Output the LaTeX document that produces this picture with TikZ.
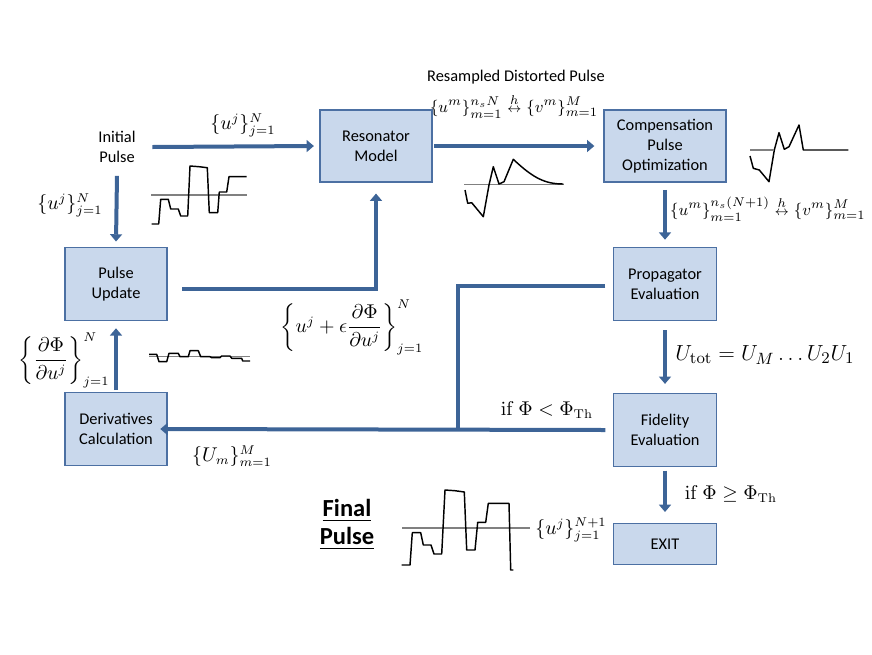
\documentclass[tikz,border=0pt]{standalone}
\usepackage{amsmath}
\usepackage[no-math]{fontspec}
\setmainfont{Carlito}
\usepackage{xcolor}
\usetikzlibrary{arrows.meta, positioning, calc}

\definecolor{boxfill}{HTML}{C9D8EC}
\definecolor{boxline}{HTML}{4C70A3}
\definecolor{flowblue}{HTML}{3D6497}

\newcommand{\hmap}{\;\overset{h}{\scriptstyle\leftrightarrow}\;}

\begin{document}
\begin{tikzpicture}[
    x=0.55pt, y=-0.55pt,
    every node/.style={font=\fontsize{9}{11}\selectfont, inner sep=1pt},
    block/.style={draw=boxline, fill=boxfill, line width=0.7pt, align=center},
    flow/.style={draw=flowblue, line width=2.2pt, -{Triangle[length=4pt, width=6.5pt]}},
    flowline/.style={draw=flowblue, line width=2.2pt},
    mlabel/.style={font=\fontsize{10.5}{13}\selectfont},
    wave/.style={line width=0.8pt, line join=round},
    axisline/.style={gray, line width=0.6pt}
  ]
  \useasboundingbox (0,0) rectangle (872,654);

  % blocks
  \node[block, minimum width=61.6pt, minimum height=39.6pt] (res) at (376,146) {Resonator\\Model};
  \node[block, minimum width=67pt, minimum height=39.6pt] (comp) at (665,146) {Compensation\\Pulse\\Optimization};
  \node[block, minimum width=56pt, minimum height=40pt] (upd) at (116,284) {Pulse\\Update};
  \node[block, minimum width=56pt, minimum height=40pt] (deriv) at (116,429) {Derivatives\\Calculation};
  \node[block, minimum width=57pt, minimum height=40pt] (prop) at (665,284) {Propagator\\Evaluation};
  \node[block, minimum width=57pt, minimum height=40pt] (fid) at (665,430) {Fidelity\\Evaluation};
  \node[block, minimum width=56.5pt, minimum height=22.5pt] (exit) at (665,544) {EXIT};
  \node[align=center] (init) at (117,147) {Initial\\Pulse};

  % connectors
  \draw[flow] ([xshift=8pt]init.east) -- ([xshift=-3pt]res.west);
  \draw[flow] ([yshift=-6pt]init.south) -- ([yshift=3pt]upd.north);
  \draw[flow] ([xshift=8pt,yshift=-3pt]upd.east) -| ([yshift=-6pt]res.south);
  \draw[flow] ([xshift=1pt]res.east) -- ([xshift=-5pt]comp.west);
  \draw[flow] ([yshift=-4pt]comp.south) -- ([yshift=4pt]prop.north);
  \coordinate (join) at (458,430);
  \draw[flowline] ([xshift=-4pt,yshift=-1pt]prop.west) -| (join);
  \draw[flow] ([xshift=-4pt]fid.west) -- ([xshift=-4pt]deriv.east);
  \draw[flow] ([yshift=-5pt]prop.south) -- ([yshift=5pt]fid.north);
  \draw[flow] ([yshift=-2pt]fid.south) -- ([yshift=6pt]exit.north);
  \draw[flow] ([yshift=1pt]deriv.north) -- ([yshift=-4pt]upd.south);

  % labels
  \node[mlabel] (uinit) at (243,125) {$\{u^j\}_{j=1}^N$};
  \node[mlabel] (uleft) at (70,205) {$\{u^j\}_{j=1}^N$};
  \node (resamp) at (516,77) {Resampled Distorted Pulse};
  \node[font=\fontsize{9.5}{12}\selectfont] (umres) at (514,106) {$\{u^m\}_{m=1}^{n_sN}\hmap\{v^m\}_{m=1}^M$};
  \node[font=\fontsize{9.5}{12}\selectfont, anchor=west] (umcomp) at (668,209) {$\{u^m\}_{m=1}^{n_s(N+1)}\hmap\{v^m\}_{m=1}^M$};
  \node[font=\fontsize{12.5}{14}\selectfont] (utot) at (765,355) {$U_{\mathrm{tot}} = U_M \dots U_2U_1$};
  \node[mlabel] (dphi) at (64,360) {$\left\{\dfrac{\partial\Phi}{\partial u^j}\right\}_{j=1}^N$};
  \node[mlabel] (upd-lbl) at (352,327) {$\left\{u^j+\epsilon\dfrac{\partial\Phi}{\partial u^j}\right\}_{j=1}^N$};
  \node[mlabel] (um) at (232,456) {$\{U_m\}_{m=1}^M$};
  \node[mlabel] (iflt) at (547,410) {$\mathrm{if}\ \Phi < \Phi_{\mathrm{Th}}$};
  \node[mlabel] (ifge) at (731,494) {$\mathrm{if}\ \Phi \geq \Phi_{\mathrm{Th}}$};
  \node[mlabel] (ufinal) at (571,530) {$\{u^j\}_{j=1}^{N+1}$};
  \node[font=\fontsize{13.5}{15.4}\selectfont\bfseries, align=center] (final) at (347,525) {\underline{Final}\\\underline{Pulse}};

  % initial pulse
  \draw[axisline] (151,195) -- (247,195);
  \draw[wave] (151.7,224) -- (158.7,224) -- (160.7,199.3) -- (168.3,199.3) -- (170.7,209) -- (178.3,209)
    -- (180.7,216) -- (187.7,216) -- (190,166) -- (199,166.7) -- (207.3,167.7) -- (209.3,212.7)
    -- (217.7,212.7) -- (219.3,192) -- (226.7,192) -- (229,176.7) -- (246.7,176.7);

  % distorted pulse
  \draw[axisline] (464,184.3) -- (564,184.3);
  \draw[wave] (465,190) -- (467.7,203.3) -- (471.7,202.7) -- (483.3,216.7) -- (489,185) -- (493.3,166.7)
    -- (499,184) -- (504,181.7) -- (513.3,159.3) .. controls (533,178) and (545,184) .. (563.3,184);

  % compensation pulse
  \draw[wave] (750,156) -- (753.3,168.3) -- (759.3,170) -- (769,181.7) -- (774.3,150) -- (779,132.7)
    -- (784.3,149.3) -- (789,146.7) -- (799,125) -- (803.3,150) -- (848.3,150);
  \draw[axisline] (750,150) -- (774,150);

  % derivative
  \draw[axisline] (149,356.7) -- (250,356.7);
  \draw[wave] (149,354.3) -- (156.7,354.3) -- (159,361.7) -- (166.7,361.7) -- (169,353.3) -- (178.3,353.3)
    -- (180,356.7) -- (188.3,356.7) -- (190,350.7) -- (198.3,350.7) -- (200.7,356.7) -- (210,356.7)
    -- (211.7,357.7) -- (220,357.7) -- (221.7,356) -- (230,356) -- (231.7,358.3) -- (241.7,358.3)
    -- (242.7,361) -- (250,361);

  % final pulse
  \draw[axisline] (402,528) -- (530,528);
  \draw[wave] (401.7,565) -- (410,565) -- (412.3,532.7) -- (420.7,532.7) -- (423.3,545) -- (431,545)
    -- (434,554) -- (441.7,554) -- (445,490) -- (455,490.7) -- (464.3,492) -- (466.7,550)
    -- (475,550) -- (477.7,522.3) -- (485.7,522.3) -- (488.3,503.3) -- (509,503.3) -- (510.7,570)
    -- (513.3,570);
\end{tikzpicture}
\end{document}
